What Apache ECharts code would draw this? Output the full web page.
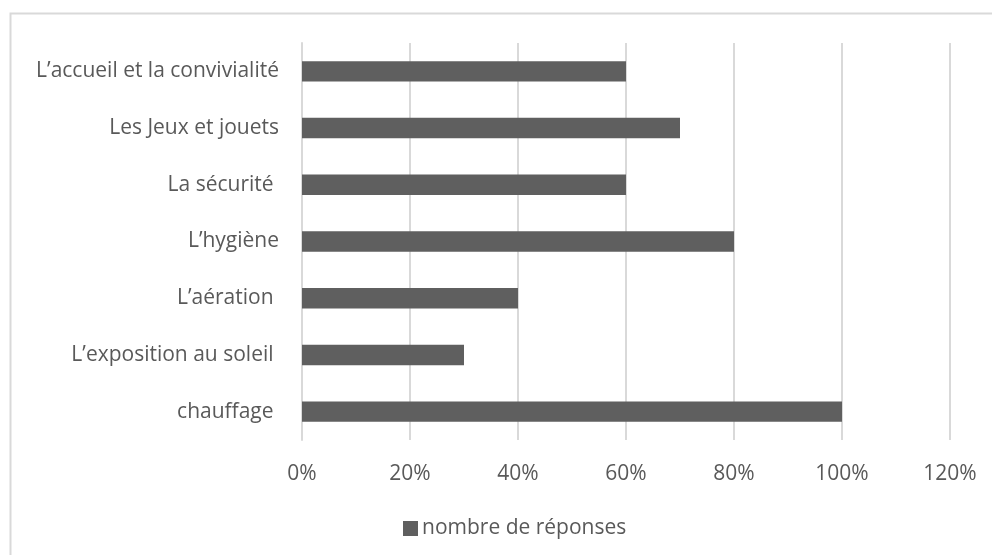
<!DOCTYPE html>
<html>
<head>
<meta charset="utf-8">
<script src="https://cdn.jsdelivr.net/npm/echarts@6/dist/echarts.min.js"></script>
<style>
  html, body { margin: 0; padding: 0; background: #fff; }
  #chart { width: 992px; height: 555px; }
</style>
</head>
<body>
<div id="chart"></div>
<script>
// Survey topics, listed bottom to top as the category axis draws them
const categories = [
  'chauffage ',
  'L\u2019exposition au soleil ',
  'L\u2019aération ',
  'L\u2019hygiène',
  'La sécurité ',
  'Les Jeux et jouets',
  'L\u2019accueil et la convivialité'
];
// Share of answers per topic (fraction of 1)
const responses = [1.0, 0.3, 0.4, 0.8, 0.6, 0.7, 0.6];
const seriesName = 'nombre de réponses';

const FONT = '"Open Sans", "Noto Sans", sans-serif';
const TEXT = '#595959';
const BAR = '#5f5f5f';
const SIZE = 21;

const chart = echarts.init(document.getElementById('chart'), null, { renderer: 'canvas' });
chart.setOption({
  backgroundColor: '#ffffff',
  animation: false,
  graphic: [{
    type: 'rect',
    shape: { x: 10.5, y: 13.5, width: 1000, height: 600 },
    style: { fill: 'none', stroke: '#d9d9d9', lineWidth: 2 },
    silent: true
  }],
  grid: { left: 302, right: 42, top: 43, bottom: 115, containLabel: false },
  legend: {
    top: 513,
    left: 398,
    itemWidth: 15,
    itemHeight: 15,
    itemGap: 5,
    icon: 'rect',
    textStyle: { color: TEXT, fontFamily: FONT, fontSize: SIZE, padding: [0, 0, 0, -1] },
    data: [seriesName]
  },
  xAxis: {
    type: 'value',
    min: 0,
    max: 1.2,
    interval: 0.2,
    axisLine: { show: false },
    axisTick: { show: false },
    splitLine: { lineStyle: { color: '#d9d9d9', width: 2 } },
    axisLabel: {
      color: TEXT,
      fontFamily: FONT,
      fontSize: SIZE,
      margin: 24,
      formatter: v => Math.round(v * 100) + '%'
    }
  },
  yAxis: {
    type: 'category',
    data: categories,
    axisLine: { show: true, lineStyle: { color: '#d9d9d9', width: 2 } },
    axisTick: { show: false },
    axisLabel: { color: TEXT, fontFamily: FONT, fontSize: SIZE, margin: 23 }
  },
  series: [{
    name: seriesName,
    type: 'bar',
    data: responses,
    barCategoryGap: '64%',
    itemStyle: { color: BAR },
    z: 3
  }]
});
</script>
</body>
</html>
